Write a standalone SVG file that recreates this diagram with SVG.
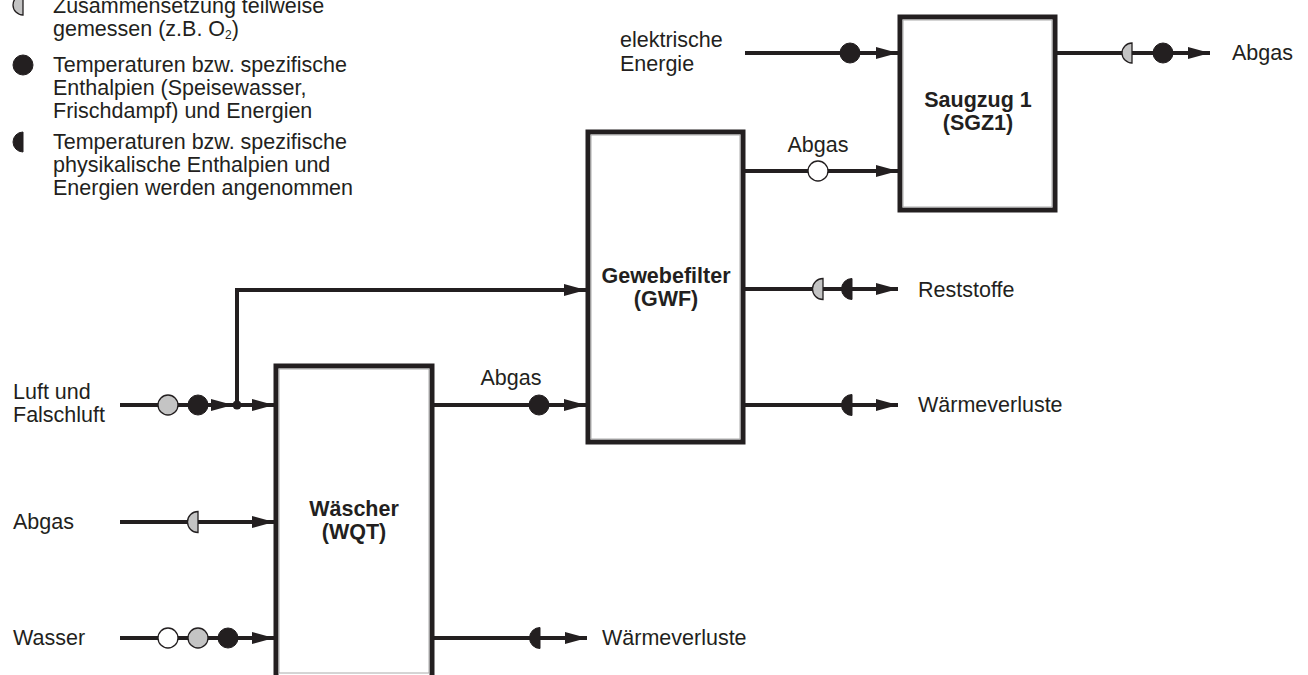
<svg xmlns="http://www.w3.org/2000/svg" width="1308" height="675" viewBox="0 0 1308 675">
<defs>
<style>
.t{font-family:"Liberation Sans",Arial,sans-serif;font-size:21.5px;fill:#231f20}
.b{font-family:"Liberation Sans",Arial,sans-serif;font-size:21.5px;font-weight:bold;fill:#231f20;text-anchor:middle}
.box{fill:#fff;stroke:#231f20;stroke-width:5}
.inner{fill:none;stroke:#aaa;stroke-width:1}
.ln{fill:none;stroke:#231f20;stroke-width:4}
.blk{fill:#231f20;stroke:#231f20;stroke-width:1}
.gry{fill:#c4c4c4;stroke:#231f20;stroke-width:1.3}
.wht{fill:#fff;stroke:#231f20;stroke-width:1.3}
</style>
<marker id="ah" viewBox="0 0 22 12" refX="22" refY="6" markerWidth="22" markerHeight="12" markerUnits="userSpaceOnUse" orient="auto">
<path d="M0,0 L22,6 L0,12 Z" fill="#231f20"/>
</marker>
</defs>
<rect width="1308" height="675" fill="#fff"/>

<g id="legend">
<path class="gry" d="M23,-5 A10,10 0 0 0 23,15 Z"/>
<text class="t" x="53" y="13">Zusammensetzung teilweise</text>
<text class="t" x="53" y="36">gemessen (z.B. O<tspan font-size="12" dy="3">2</tspan><tspan dy="-3">)</tspan></text>
<circle class="blk" cx="23" cy="65" r="10"/>
<text class="t" x="53" y="72">Temperaturen bzw. spezifische</text>
<text class="t" x="53" y="95">Enthalpien (Speisewasser,</text>
<text class="t" x="53" y="118">Frischdampf) und Energien</text>
<path class="blk" d="M23,132 A10,10 0 0 0 23,152 Z"/>
<text class="t" x="53" y="149">Temperaturen bzw. spezifische</text>
<text class="t" x="53" y="172">physikalische Enthalpien und</text>
<text class="t" x="53" y="195">Energien werden angenommen</text>
</g>

<g id="connectors">
<!-- elektrische Energie -> SGZ -->
<path class="ln" d="M745,53 L898,53" marker-end="url(#ah)"/>
<circle class="blk" cx="850" cy="53" r="10"/>
<!-- SGZ -> Abgas -->
<path class="ln" d="M1055,53 L1210,53" marker-end="url(#ah)"/>
<path class="gry" d="M1132,43 A10,10 0 0 0 1132,63 Z"/>
<circle class="blk" cx="1163" cy="53" r="10"/>
<!-- GWF -> SGZ Abgas -->
<path class="ln" d="M745,171 L898,171" marker-end="url(#ah)"/>
<circle class="wht" cx="818" cy="171" r="10"/>
<!-- GWF -> Reststoffe -->
<path class="ln" d="M745,289 L898,289" marker-end="url(#ah)"/>
<path class="gry" d="M823,278.5 A10.5,10.5 0 0 0 823,299.5 Z"/>
<path class="blk" d="M852,278.5 A10.5,10.5 0 0 0 852,299.5 Z"/>
<!-- GWF -> Wärmeverluste -->
<path class="ln" d="M745,405 L898,405" marker-end="url(#ah)"/>
<path class="blk" d="M852,394.5 A10.5,10.5 0 0 0 852,415.5 Z"/>
<!-- Luft und Falschluft -->
<path class="ln" d="M120,405 L233,405" marker-end="url(#ah)"/>
<path class="ln" d="M237,405 L274,405" marker-end="url(#ah)"/>
<circle class="gry" cx="168" cy="405" r="10"/>
<circle class="blk" cx="198" cy="405" r="10"/>
<circle cx="237" cy="405" r="4.5" fill="#231f20"/>
<!-- bypass to GWF -->
<path class="ln" d="M237,405 L237,290 L586,290" marker-end="url(#ah)"/>
<!-- WQT -> GWF Abgas -->
<path class="ln" d="M433,405 L586,405" marker-end="url(#ah)"/>
<circle class="blk" cx="539" cy="405" r="10"/>
<!-- Abgas -> WQT -->
<path class="ln" d="M120,522 L274,522" marker-end="url(#ah)"/>
<path class="gry" d="M198,511.5 A10.5,10.5 0 0 0 198,532.5 Z"/>
<!-- Wasser -> WQT -->
<path class="ln" d="M120,638 L274,638" marker-end="url(#ah)"/>
<circle class="wht" cx="168" cy="638" r="10"/>
<circle class="gry" cx="198" cy="638" r="10"/>
<circle class="blk" cx="228" cy="638" r="10"/>
<!-- WQT -> Wärmeverluste -->
<path class="ln" d="M433,638 L587,638" marker-end="url(#ah)"/>
<path class="blk" d="M540,627.5 A10.5,10.5 0 0 0 540,648.5 Z"/>
</g>

<g id="labels">
<text class="t" x="620" y="47">elektrische</text>
<text class="t" x="620" y="71">Energie</text>
<text class="t" x="1232" y="60">Abgas</text>
<text class="t" x="818" y="152" text-anchor="middle">Abgas</text>
<text class="t" x="918" y="297">Reststoffe</text>
<text class="t" x="918" y="412">Wärmeverluste</text>
<text class="t" x="511" y="385" text-anchor="middle">Abgas</text>
<text class="t" x="602" y="645">Wärmeverluste</text>
<text class="t" x="13" y="399">Luft und</text>
<text class="t" x="13" y="422">Falschluft</text>
<text class="t" x="13" y="529">Abgas</text>
<text class="t" x="13" y="645">Wasser</text>
</g>

<g id="SGZ1">
<rect class="box" x="900" y="17" width="155" height="193"/>
<rect class="inner" x="903" y="20" width="149" height="187"/>
<text class="b" x="978" y="107">Saugzug 1</text>
<text class="b" x="978" y="130">(SGZ1)</text>
</g>

<g id="GWF">
<rect class="box" x="588" y="132" width="155" height="310"/>
<rect class="inner" x="591" y="135" width="149" height="304"/>
<text class="b" x="666" y="283">Gewebefilter</text>
<text class="b" x="666" y="306">(GWF)</text>
</g>

<g id="WQT">
<rect class="box" x="276" y="366" width="156" height="330"/>
<rect class="inner" x="279" y="369" width="150" height="304"/>
<text class="b" x="354" y="516">Wäscher</text>
<text class="b" x="354" y="539">(WQT)</text>
</g>
</svg>
